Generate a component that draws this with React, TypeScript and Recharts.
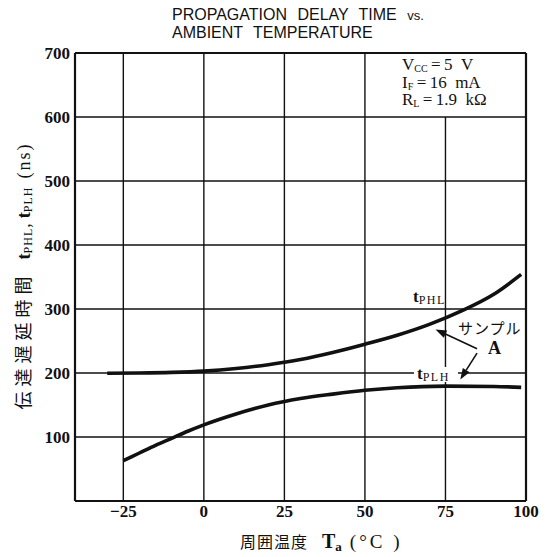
import React from 'react'
import { LineChart, Line, XAxis, YAxis, ReferenceLine } from 'recharts'

// tPHL, tPLH (ns) vs Ta (°C)
const tempPhl = [-30, -20, -10, 0, 10, 20, 30, 40, 50, 60, 70, 80, 90, 98.5]
const delayPhl = [199.5, 200, 201, 203, 207, 213, 221, 232, 245, 259, 276, 297, 323, 354]
const tempPlh = [-25, -20, -15, -10, -5, 0, 10, 20, 30, 40, 50, 60, 75, 90, 98.5]
const delayPlh = [63, 75, 87, 98, 109, 119, 136, 150, 160, 167, 173, 177, 179.5, 179, 177.5]

const xTicks = [-25, 0, 25, 50, 75, 100]
const yTicks = [100, 200, 300, 400, 500, 600, 700]
const xGrid = [-25, 0, 25, 50]
const yGrid = [100, 200, 300, 400, 500, 600]

const phlData = tempPhl.map((t, i) => ({ t, v: delayPhl[i] }))
const plhData = tempPlh.map((t, i) => ({ t, v: delayPlh[i] }))

const INK = '#111'
const SERIF = '"Liberation Serif", "DejaVu Serif", serif'
const SANS = '"Liberation Sans", Arial, sans-serif'
const CJK = '"Noto Sans CJK JP", sans-serif'

const ArrowShape = (props: any) => {
  const { x1, y1, x2, y2 } = props
  if ([x1, y1, x2, y2].some((n) => typeof n !== 'number')) return null
  const ang = Math.atan2(y2 - y1, x2 - x1)
  const len = 11
  const w = 4
  const bx = x2 - len * Math.cos(ang)
  const by = y2 - len * Math.sin(ang)
  const px = -Math.sin(ang) * w
  const py = Math.cos(ang) * w
  return (
    <g>
      <line x1={x1} y1={y1} x2={bx} y2={by} stroke={INK} strokeWidth={1.6} />
      <polygon points={`${x2},${y2} ${bx + px},${by + py} ${bx - px},${by - py}`} fill={INK} />
    </g>
  )
}

const App = () => {
  return (
    <div style={{ position: 'absolute', left: 0, top: 0, width: 546, height: 557, background: '#fff' }}>
      <LineChart width={546} height={557} data={phlData} margin={{ top: 53, right: 20, bottom: 26, left: 0 }}>
        {xGrid.map((x) => (
          <ReferenceLine key={'x' + x} x={x} stroke={INK} strokeWidth={1.4} />
        ))}
        <ReferenceLine segment={[{ x: 75, y: 0 }, { x: 75, y: 600 }]} stroke={INK} strokeWidth={1.4} />
        {yGrid.map((y) => (
          <ReferenceLine key={'y' + y} y={y} stroke={INK} strokeWidth={1.4} />
        ))}
        <ReferenceLine y={700} stroke={INK} strokeWidth={2.2} />
        <ReferenceLine x={100} stroke={INK} strokeWidth={2.2} />
        <XAxis
          type="number"
          dataKey="t"
          domain={[-40, 100]}
          ticks={xTicks}
          allowDataOverflow
          tickLine={false}
          tickSize={3}
          tickMargin={1}
          height={30}
          axisLine={{ stroke: INK, strokeWidth: 2.2 }}
          tickFormatter={(v: number) => (v < 0 ? `\u2212${-v}` : `${v}`)}
          tick={{ fill: INK, fontSize: 17, fontWeight: 700, fontFamily: SERIF }}
        />
        <YAxis
          type="number"
          domain={[0, 700]}
          ticks={yTicks}
          width={75}
          tickLine={false}
          tickSize={3}
          tickMargin={2}
          axisLine={{ stroke: INK, strokeWidth: 2.2 }}
          tick={{ fill: INK, fontSize: 17, fontWeight: 700, fontFamily: SERIF }}
        />
        <Line data={phlData} dataKey="v" type="monotone" stroke={INK} strokeWidth={3.6} dot={false} isAnimationActive={false} />
        <Line data={plhData} dataKey="v" type="monotone" stroke={INK} strokeWidth={3.6} dot={false} isAnimationActive={false} />
        <ReferenceLine segment={[{ x: 84.8, y: 238 }, { x: 71.9, y: 268 }]} shape={ArrowShape} />
        <ReferenceLine segment={[{ x: 84.8, y: 231 }, { x: 79.6, y: 190 }]} shape={ArrowShape} />
      </LineChart>

      <svg width={546} height={557} style={{ position: 'absolute', left: 0, top: 0, pointerEvents: 'none' }}>
        {/* title */}
        <text x={172} y={20} fontFamily={SANS} fontSize={16} fill={INK} style={{ wordSpacing: 6 }}>
          PROPAGATION DELAY TIME <tspan fontSize={13}>vs.</tspan>
        </text>
        <text x={172} y={37.5} fontFamily={SANS} fontSize={16} fill={INK} style={{ wordSpacing: 6 }}>
          AMBIENT TEMPERATURE
        </text>

        {/* conditions */}
        <g fontFamily={SERIF} fontSize={17} fill={INK}>
          <text x={402} y={70}>
            V<tspan fontSize={10} dy={2}>CC</tspan>
            <tspan dy={-2}>{'\u2009=\u20095\u2002V'}</tspan>
          </text>
          <text x={402} y={87.5}>
            I<tspan fontSize={10} dy={2}>F</tspan>
            <tspan dy={-2}>{'\u2009=\u200916\u2002mA'}</tspan>
          </text>
          <text x={402} y={105}>
            R<tspan fontSize={10} dy={2}>L</tspan>
            <tspan dy={-2}>{'\u2009=\u20091.9\u2002k\u03a9'}</tspan>
          </text>
        </g>

        {/* curve labels */}
        <text x={413} y={302} fontFamily={SERIF} fill={INK}>
          <tspan fontSize={17} fontWeight={700}>t</tspan>
          <tspan fontSize={12} dy={2} letterSpacing={1.5}>PHL</tspan>
        </text>
        <rect x={414} y={367} width={44} height={15} fill="#fff" />
        <text x={417} y={379} fontFamily={SERIF} fill={INK}>
          <tspan fontSize={17} fontWeight={700}>t</tspan>
          <tspan fontSize={12} dy={2} letterSpacing={1.5}>PLH</tspan>
        </text>
        <text x={458} y={334} fontFamily={CJK} fontSize={15} fill={INK} letterSpacing={1}>
          サンプル
        </text>
        <text x={488} y={354} fontFamily={SERIF} fontSize={18} fontWeight={700} fill={INK}>
          A
        </text>

        {/* y axis title */}
        <text transform="rotate(-90 24 276)" x={24} y={282} textAnchor="middle" fill={INK}>
          <tspan fontFamily={CJK} fontSize={18} letterSpacing={5}>伝達遅延時間</tspan>
          <tspan fontFamily={SERIF} fontSize={18} fontWeight={700} dx={12}>t</tspan>
          <tspan fontFamily={SERIF} fontSize={12} dy={2} letterSpacing={1}>PHL</tspan>
          <tspan fontFamily={SERIF} fontSize={18} dy={-2}>,</tspan>
          <tspan fontFamily={SERIF} fontSize={18} fontWeight={700} dx={5}>t</tspan>
          <tspan fontFamily={SERIF} fontSize={12} dy={2} letterSpacing={1}>PLH</tspan>
          <tspan fontFamily={SERIF} fontSize={18} dy={-2} dx={8} letterSpacing={2}>(ns)</tspan>
        </text>

        {/* x axis title */}
        <text x={240} y={548} fill={INK}>
          <tspan fontFamily={CJK} fontSize={16} letterSpacing={1}>周囲温度</tspan>
          <tspan fontFamily={SERIF} fontSize={20} fontWeight={700} dx={14}>T</tspan>
          <tspan fontFamily={SERIF} fontSize={13} fontWeight={700} dy={3}>a</tspan>
          <tspan fontFamily={SERIF} fontSize={19} dy={-3} dx={8} letterSpacing={3}>(°C )</tspan>
        </text>
      </svg>
    </div>
  )
}

export default App
